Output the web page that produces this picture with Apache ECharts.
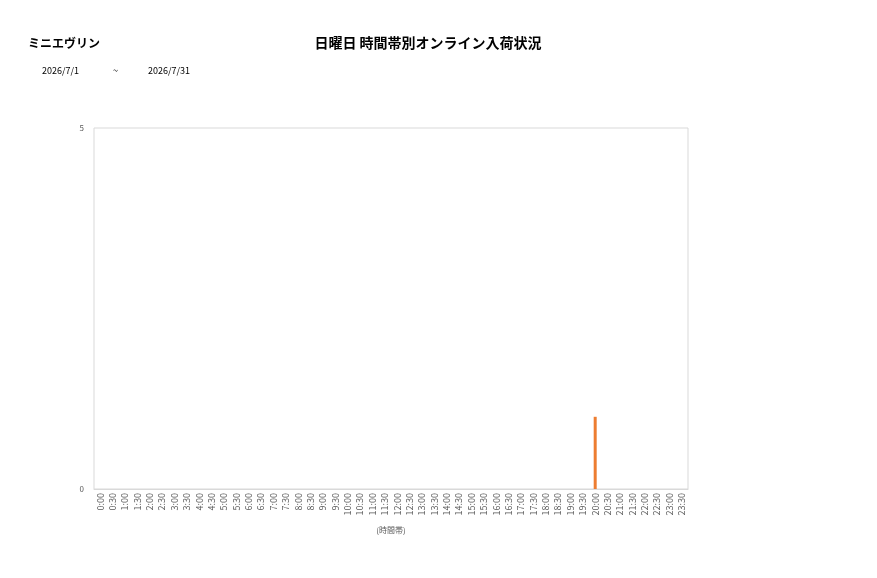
<!DOCTYPE html>
<html><head><meta charset="utf-8">
<script src="https://cdn.jsdelivr.net/npm/echarts@6/dist/echarts.min.js"></script>
<style>html,body{margin:0;padding:0;background:#fff}#c{width:877px;height:578px}</style>
</head><body><div id="c"></div>
<script>
const categories = [];
for (let h = 0; h < 24; h++) { categories.push(h + ':00'); categories.push(h + ':30'); }
const values = [0,0,0,0,0,0,0,0,0,0,0,0,0,0,0,0,0,0,0,0,0,0,0,0,0,0,0,0,0,0,0,0,0,0,0,0,0,0,0,0,1,0,0,0,0,0,0,0];
const yTicks = [0, 5];
const shopName = 'ミニエヴリン';
const chartTitle = '日曜日 時間帯別オンライン入荷状況';
const dateFrom = '2026/7/1', dateTo = '2026/7/31';
const font = '"Noto Sans CJK JP", "Noto Sans", sans-serif';
const chart = echarts.init(document.getElementById('c'));
chart.setOption({
  animation: false,
  textStyle: { fontFamily: font },
  title: [
    { text: shopName, left: 28, top: 37, padding: 0, textStyle: { fontSize: 12, fontWeight: 'bold', color: '#000', fontFamily: font } },
    { text: chartTitle, left: 428, top: 36, padding: 0, textAlign: 'center', textStyle: { fontSize: 14, fontWeight: 'bold', color: '#000', fontFamily: font } },
    { text: dateFrom, left: 42, top: 66, padding: 0, textStyle: { fontSize: 9, fontWeight: 'normal', color: '#000', fontFamily: font } },
    { text: '~', left: 113, top: 66, padding: 0, textStyle: { fontSize: 9, fontWeight: 'normal', color: '#000', fontFamily: font } },
    { text: dateTo, left: 148, top: 66, padding: 0, textStyle: { fontSize: 9, fontWeight: 'normal', color: '#000', fontFamily: font } }
  ],
  grid: { left: 94, right: 189, top: 128, bottom: 89, show: true, borderColor: '#d9d9d9', borderWidth: 1, backgroundColor: '#fff' },
  xAxis: {
    type: 'category', data: categories,
    name: '(時間帯)', nameLocation: 'middle', nameGap: 37,
    nameTextStyle: { fontSize: 8, color: '#595959', fontFamily: font },
    axisLine: { lineStyle: { color: '#d9d9d9' } },
    axisTick: { show: false },
    axisLabel: { interval: 0, rotate: 90, fontSize: 9, color: '#595959', margin: 4, fontFamily: font }
  },
  yAxis: {
    type: 'value', min: yTicks[0], max: yTicks[1], interval: 5,
    axisLine: { show: false }, axisTick: { show: false },
    splitLine: { show: false },
    axisLabel: { fontSize: 8, color: '#595959', margin: 10, fontFamily: font }
  },
  series: [{ type: 'bar', data: values, barWidth: 3, itemStyle: { color: '#ED7D31' } }]
});
</script></body></html>
